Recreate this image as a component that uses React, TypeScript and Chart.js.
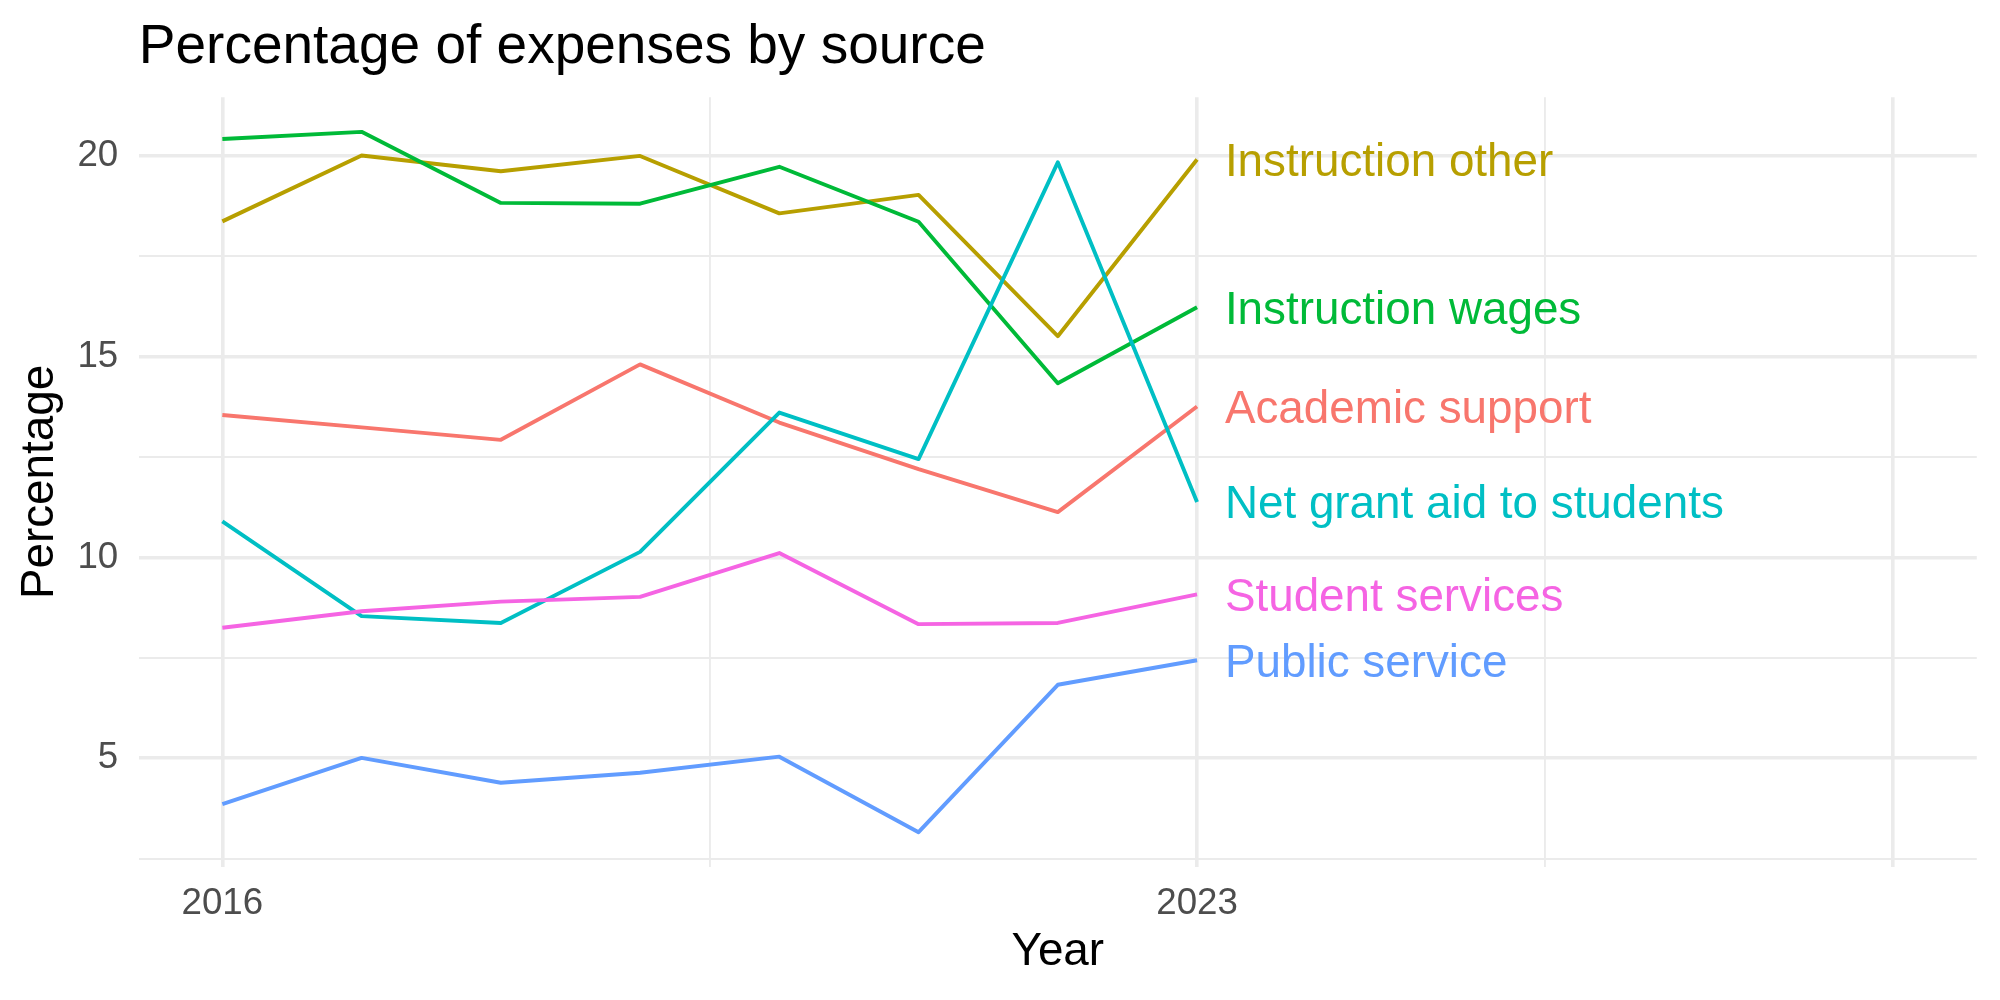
import React, { useEffect, useRef } from "react";
import { Chart, registerables } from "chart.js";

Chart.register(...registerables);

const years = [2016, 2017, 2018, 2019, 2020, 2021, 2022, 2023];
const seriesNames = [
  "Academic support",
  "Instruction other",
  "Instruction wages",
  "Net grant aid to students",
  "Public service",
  "Student services",
];
const academicSupport = [13.55, 13.24, 12.93, 14.81, 13.36, 12.2, 11.13, 13.76];
const instructionOther = [18.37, 20.01, 19.62, 20.0, 18.57, 19.03, 15.51, 19.91];
const instructionWages = [20.42, 20.6, 18.83, 18.81, 19.73, 18.36, 14.34, 16.23];
const netGrantAid = [10.9, 8.54, 8.37, 10.14, 13.61, 12.45, 19.84, 11.38];
const publicService = [3.86, 5.01, 4.39, 4.64, 5.04, 3.16, 6.83, 7.44];
const studentServices = [8.25, 8.66, 8.9, 9.02, 10.11, 8.34, 8.37, 9.08];
const seriesColors = ["#F8766D", "#B79F00", "#00BA38", "#00BFC4", "#619CFF", "#F564E3"];

const xMajorTicks = [2016, 2023, 2028];
const xMinorTicks = [2019.5, 2025.5];
const xTickLabels = [2016, 2023];
const yMajorTicks = [5, 10, 15, 20];
const yMinorTicks = [2.5, 7.5, 12.5, 17.5];

const TITLE = "Percentage of expenses by source";
const FONT = '"Liberation Sans", Arial, Helvetica, sans-serif';

export default function App() {
  const canvasRef = useRef<HTMLCanvasElement | null>(null);

  useEffect(() => {
    const canvas = canvasRef.current;
    if (!canvas) return;
    const allSeries = [academicSupport, instructionOther, instructionWages, netGrantAid, publicService, studentServices];

    const titlePlugin = {
      id: "ggTitle",
      afterDraw(chart: any) {
        const ctx = chart.ctx;
        ctx.save();
        ctx.fillStyle = "#000000";
        ctx.font = `55px ${FONT}`;
        ctx.textAlign = "left";
        ctx.textBaseline = "alphabetic";
        ctx.fillText(TITLE, chart.chartArea.left, 62.7);
        ctx.restore();
      },
    };

    const labelPlugin = {
      id: "endLabels",
      afterDatasetsDraw(chart: any) {
        const ctx = chart.ctx;
        const xs = chart.scales.x;
        const ys = chart.scales.y;
        ctx.save();
        ctx.font = `45.8px ${FONT}`;
        ctx.textAlign = "left";
        ctx.textBaseline = "alphabetic";
        chart.data.datasets.forEach((ds: any) => {
          const last = ds.data[ds.data.length - 1];
          const px = xs.getPixelForValue(last.x + 0.2);
          const py = ys.getPixelForValue(last.y);
          ctx.fillStyle = ds.borderColor;
          ctx.fillText(ds.label, px, py + 16.4);
        });
        ctx.restore();
      },
    };

    const chart = new Chart(canvas, {
      type: "line",
      data: {
        datasets: seriesNames.map((name, i) => ({
          label: name,
          data: years.map((yr, j) => ({ x: yr, y: allSeries[i][j] })),
          borderColor: seriesColors[i],
          backgroundColor: seriesColors[i],
          borderWidth: 3.9,
          pointRadius: 0,
          pointHoverRadius: 0,
          tension: 0,
          fill: false,
          borderJoinStyle: "round",
          borderCapStyle: "butt",
          order: seriesNames.length - i,
        })),
      },
      options: {
        animation: false,
        responsive: true,
        maintainAspectRatio: false,
        devicePixelRatio: 1,
        events: [],
        layout: { padding: { top: 97.3, right: 23.2, left: 0, bottom: 0 } },
        plugins: {
          legend: { display: false },
          title: { display: false },
          tooltip: { enabled: false },
        },
        scales: {
          x: {
            type: "linear",
            min: 2015.4,
            max: 2028.6,
            afterBuildTicks(scale: any) {
              scale.ticks = [...xMajorTicks, ...xMinorTicks].sort((a, b) => a - b).map((v) => ({ value: v }));
            },
            afterFit(scale: any) {
              scale.height = 133.3;
            },
            border: { display: false },
            grid: {
              color: "#EBEBEB",
              drawTicks: false,
              lineWidth: (c: any) => (c.tick && xMajorTicks.includes(c.tick.value) ? 3.6 : 1.9),
            },
            ticks: {
              autoSkip: false,
              maxRotation: 0,
              minRotation: 0,
              padding: 15.6,
              color: "#4D4D4D",
              font: { family: FONT, size: 36.7 },
              callback: (v: any) => (xTickLabels.includes(Number(v)) ? String(v) : ""),
            },
            title: {
              display: true,
              text: "Year",
              color: "#000000",
              font: { family: FONT, size: 45.8 },
              padding: { top: 0, bottom: 20.5 },
            },
          },
          y: {
            type: "linear",
            min: 2.3,
            max: 21.46,
            afterBuildTicks(scale: any) {
              scale.ticks = [...yMajorTicks, ...yMinorTicks].sort((a, b) => a - b).map((v) => ({ value: v }));
            },
            afterFit(scale: any) {
              scale.width = 138.8;
            },
            border: { display: false },
            grid: {
              color: "#EBEBEB",
              drawTicks: false,
              lineWidth: (c: any) => (c.tick && yMajorTicks.includes(c.tick.value) ? 3.6 : 1.9),
            },
            ticks: {
              autoSkip: false,
              padding: 20.6,
              color: "#4D4D4D",
              font: { family: FONT, size: 36.7 },
              callback: (v: any) => (yMajorTicks.includes(Number(v)) ? String(v) : ""),
            },
            title: {
              display: true,
              text: "Percentage",
              color: "#000000",
              font: { family: FONT, size: 45.8 },
              padding: { top: 13.3, bottom: 0 },
            },
          },
        },
      },
      plugins: [titlePlugin, labelPlugin],
    } as any);

    return () => chart.destroy();
  }, []);

  return (
    <div style={{ position: "fixed", left: 0, top: 0, width: "2000px", height: "1000px", background: "#ffffff" }}>
      <canvas ref={canvasRef} />
    </div>
  );
}
